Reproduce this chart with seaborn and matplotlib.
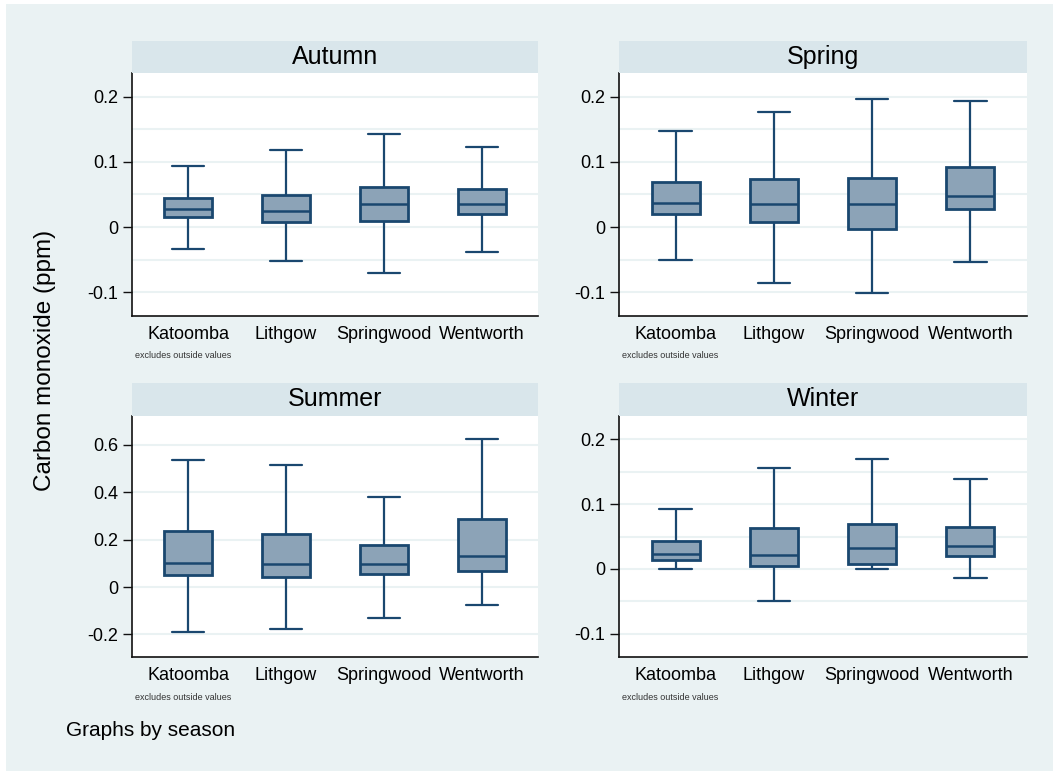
import numpy as np
import pandas as pd
import seaborn as sns
import matplotlib.pyplot as plt
from matplotlib.patches import Rectangle

sns.set_theme(style='white')
plt.rcParams['font.family'] = ['Liberation Sans', 'DejaVu Sans']
plt.rcParams['axes.unicode_minus'] = False

# five-number summaries (rows: seasons, cols: sites)
seasons = ['Autumn', 'Spring', 'Summer', 'Winter']
sites = ['Katoomba', 'Lithgow', 'Springwood', 'Wentworth']

whisker_low = [[-0.033, -0.052, -0.070, -0.038],
               [-0.051, -0.086, -0.101, -0.054],
               [-0.191, -0.177, -0.132, -0.077],
               [0.000, -0.049, 0.000, -0.014]]
q1 = [[0.016, 0.008, 0.010, 0.020],
      [0.020, 0.008, -0.003, 0.028],
      [0.049, 0.042, 0.053, 0.069],
      [0.014, 0.004, 0.008, 0.020]]
median = [[0.028, 0.024, 0.035, 0.035],
          [0.037, 0.036, 0.035, 0.048],
          [0.100, 0.095, 0.095, 0.130],
          [0.023, 0.021, 0.032, 0.036]]
q3 = [[0.045, 0.049, 0.062, 0.059],
      [0.069, 0.073, 0.075, 0.092],
      [0.237, 0.225, 0.177, 0.288],
      [0.043, 0.063, 0.070, 0.065]]
whisker_high = [[0.094, 0.118, 0.143, 0.123],
                [0.147, 0.176, 0.196, 0.193],
                [0.536, 0.514, 0.378, 0.626],
                [0.092, 0.155, 0.169, 0.138]]

small_ticks = [-0.1, 0, 0.1, 0.2]
small_labels = ['-0.1', '0', '0.1', '0.2']
summer_ticks = [-0.2, 0, 0.2, 0.4, 0.6]
summer_labels = ['-0.2', '0', '0.2', '0.4', '0.6']

# long table: five points per box reproduce the summary exactly
rows = []
for i, season in enumerate(seasons):
    for j, site in enumerate(sites):
        for v in (whisker_low[i][j], q1[i][j], median[i][j], q3[i][j], whisker_high[i][j]):
            rows.append((season, site, v))
df = pd.DataFrame(rows, columns=['season', 'site', 'co'])

bg = '#EAF2F3'
strip_col = '#D9E6EB'
navy = '#1A476F'
fill = '#8CA3B7'
axis_col = '#111111'

W, H = 1053, 771
fig = plt.figure(figsize=(W / 100, H / 100), dpi=100, facecolor='white')
fig.patches.append(Rectangle((6 / W, -1), 2, 2 - 4 / H, transform=fig.transFigure,
                             facecolor=bg, edgecolor='none', zorder=-10))

cols = {'Autumn': (132, 538), 'Spring': (619, 1027), 'Summer': (132, 538), 'Winter': (619, 1027)}
rows_px = {'Autumn': (41, 73, 316), 'Spring': (41, 73, 316),
           'Summer': (383, 416, 657), 'Winter': (383, 416, 657)}

for season in seasons:
    x0, x1 = cols[season]
    s0, p0, p1 = rows_px[season]
    ax = fig.add_axes([x0 / W, 1 - p1 / H, (x1 - x0) / W, (p1 - p0) / H])
    ax.set_facecolor('white')
    sub = df[df.season == season]
    sns.boxplot(data=sub, x='site', y='co', order=sites, ax=ax, whis=(0, 100),
                width=0.49, color=fill, linecolor=navy, linewidth=1.6,
                saturation=1, showfliers=False, capwidths=0.33,
                boxprops={'linewidth': 2.0}, medianprops={'linewidth': 1.8})

    if season == 'Summer':
        ax.set_ylim(-0.295, 0.721)
        ax.set_yticks(summer_ticks)
        ax.set_yticklabels(summer_labels)
    else:
        ax.set_ylim(-0.136, 0.236)
        ax.set_yticks(small_ticks)
        ax.set_yticklabels(small_labels)
        ax.set_yticks([-0.05, 0.05, 0.15], minor=True)
    ax.grid(True, axis='y', which='both', color=bg, linewidth=1.5, zorder=0)
    ax.set_axisbelow(True)
    ax.set_xlim(-0.576, 3.576)
    ax.set_xlabel('')
    ax.set_ylabel('')

    for side in ['top', 'right']:
        ax.spines[side].set_visible(False)
    for side in ['left', 'bottom']:
        ax.spines[side].set_color(axis_col)
        ax.spines[side].set_linewidth(1.2)
    ax.tick_params(axis='y', which='major', length=6.5, width=1, color=axis_col,
                   pad=3.5, labelsize=13, labelcolor='black', left=True)
    ax.tick_params(axis='y', which='minor', length=0)
    ax.tick_params(axis='x', length=0, pad=7, labelsize=13, labelcolor='black')

    # title strip
    sax = fig.add_axes([(x0 - 0.5) / W, 1 - p0 / H, (x1 - x0 + 0.5) / W, (p0 - s0) / H])
    sax.set_facecolor(strip_col)
    sax.set_xticks([])
    sax.set_yticks([])
    for sp in sax.spines.values():
        sp.set_visible(False)
    sax.text(0.5, 0.5, season, ha='center', va='center', fontsize=18, color='black',
             transform=sax.transAxes)

    fig.text((x0 + 3) / W, 1 - (p1 + 40) / H, 'excludes outside values',
             ha='left', va='center', fontsize=6.5, color='#333333')

fig.text(45 / W, 1 - 360 / H, 'Carbon monoxide (ppm)', rotation=90,
         ha='center', va='center', fontsize=17.5, color='black')
fig.text(66 / W, 1 - 730 / H, 'Graphs by season', ha='left', va='center',
         fontsize=15, color='black')

fig.savefig('out.png', dpi=100, facecolor=fig.get_facecolor())
